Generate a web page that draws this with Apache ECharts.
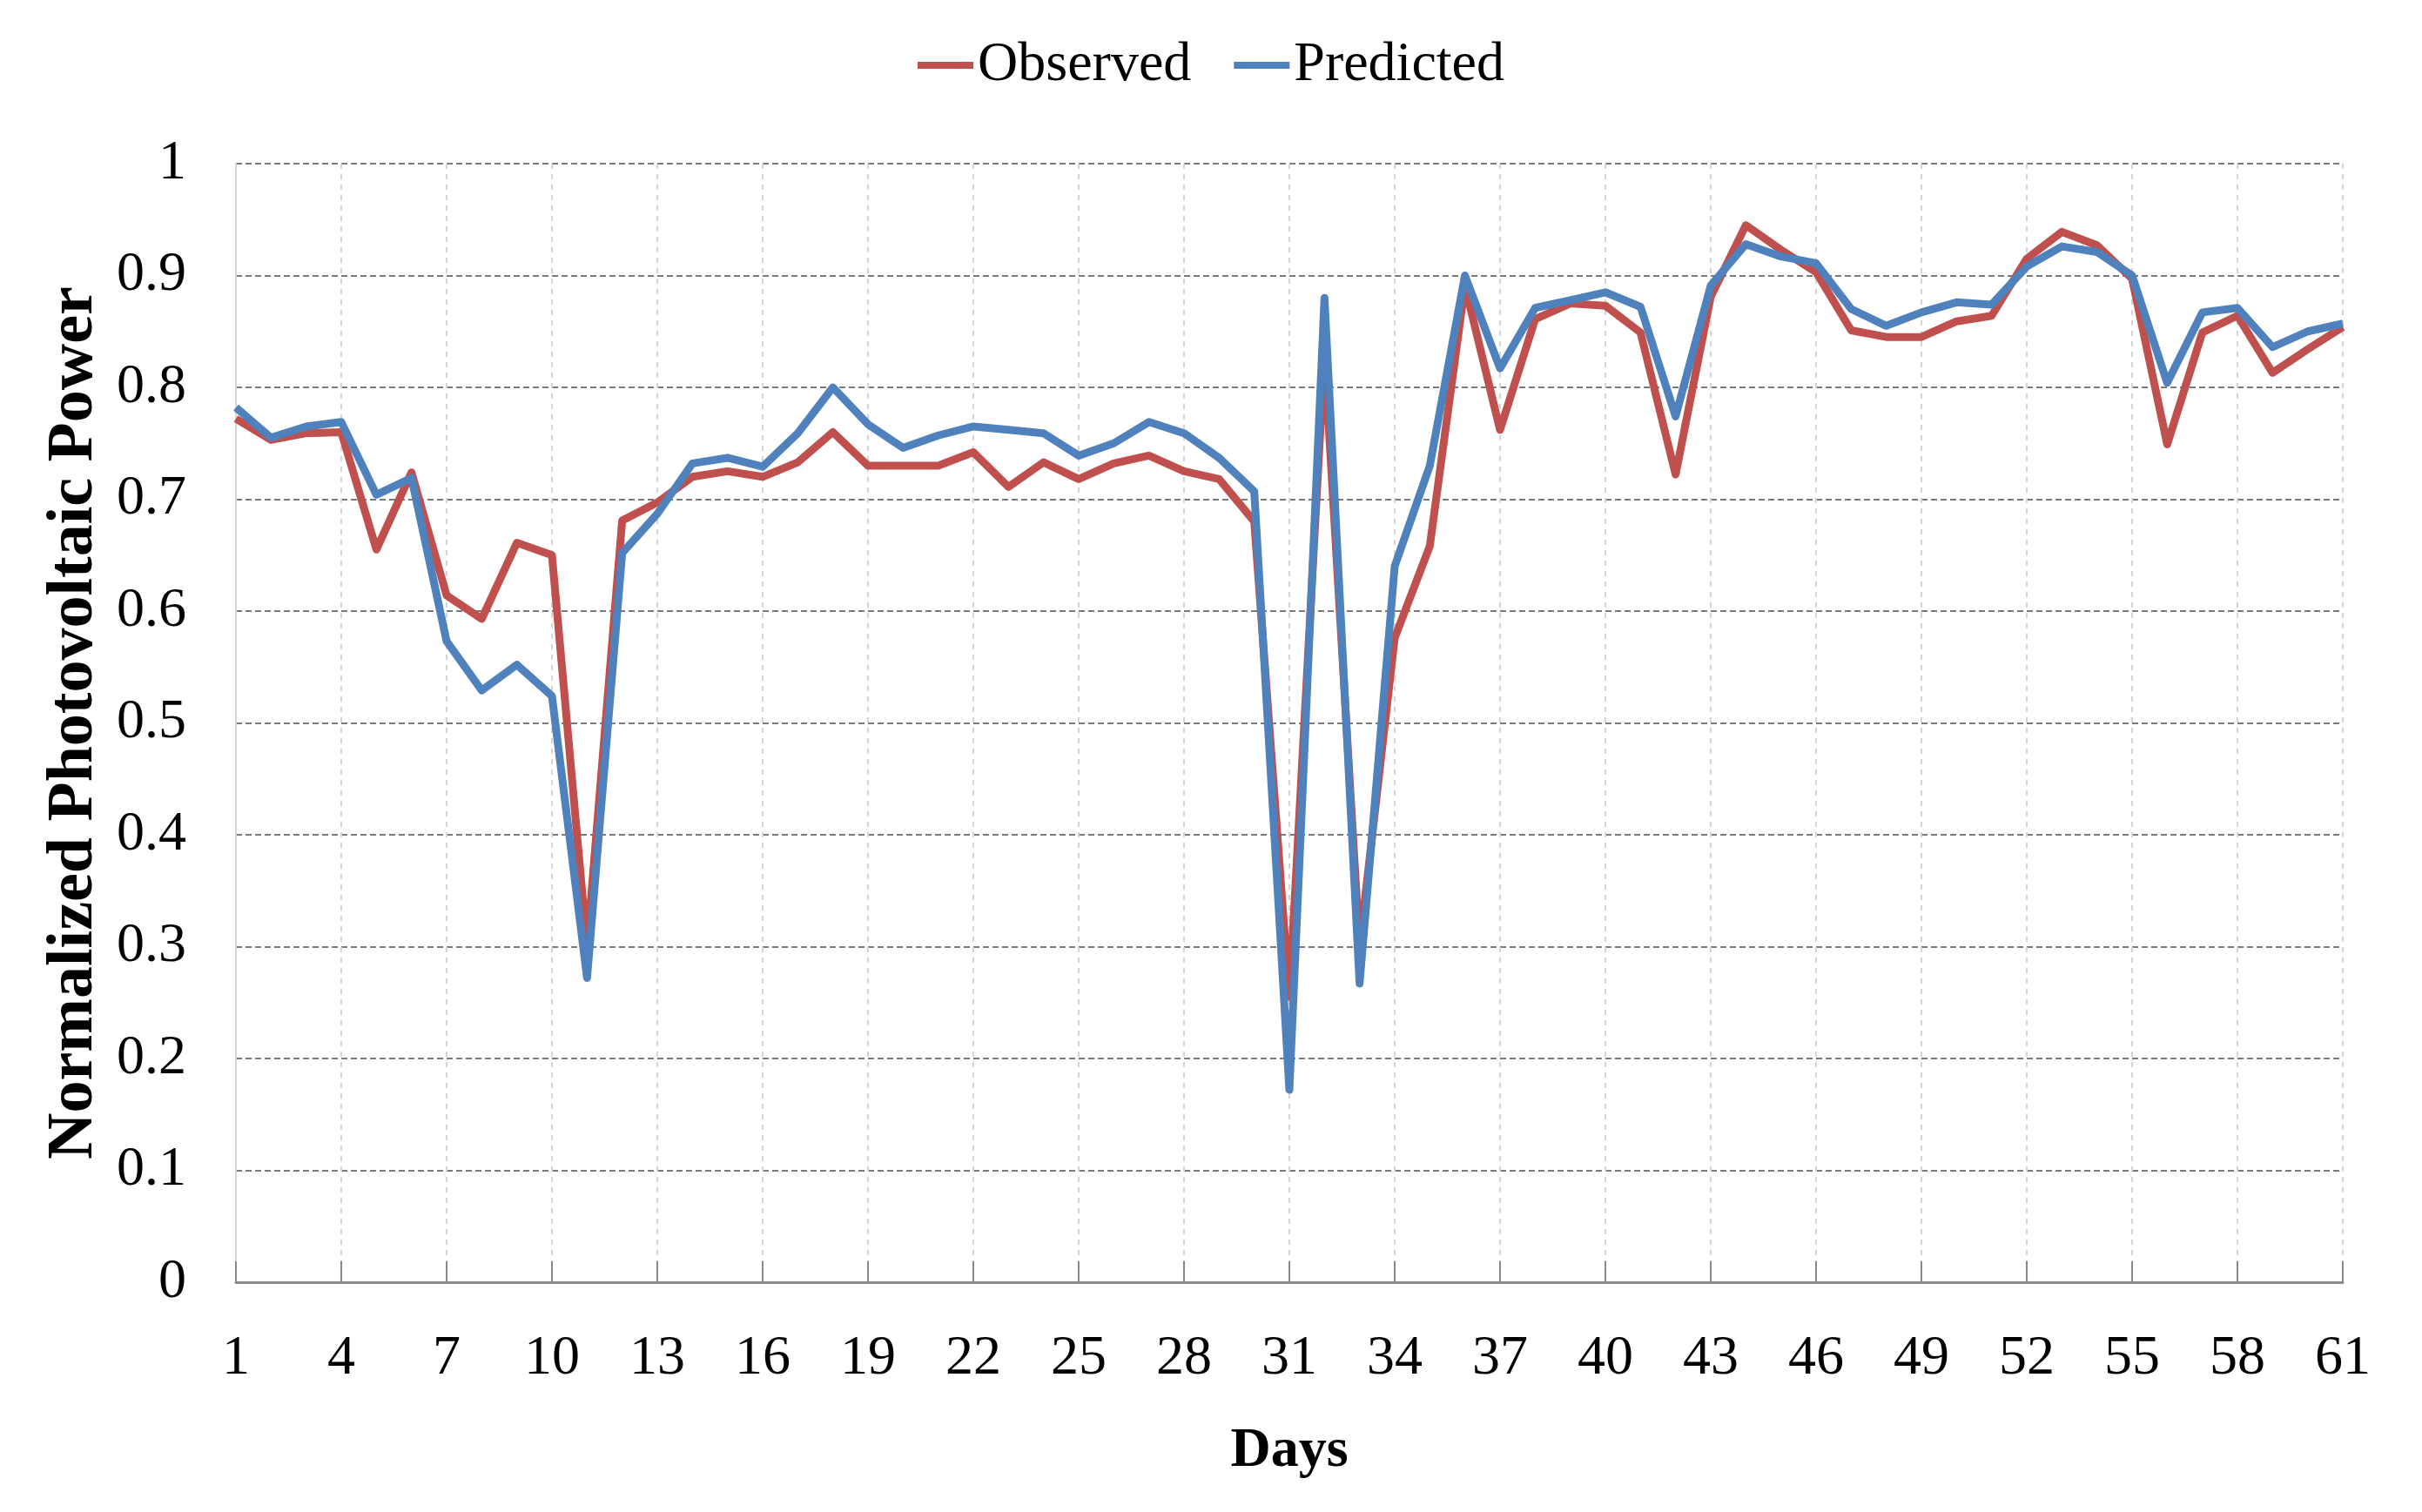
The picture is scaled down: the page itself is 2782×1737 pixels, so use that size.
<!DOCTYPE html>
<html>
<head>
<meta charset="utf-8">
<script src="https://cdn.jsdelivr.net/npm/echarts@6/dist/echarts.min.js"></script>
<style>
html,body{margin:0;padding:0;background:#fff;}
#chart{width:2782px;height:1737px;}
</style>
</head>
<body>
<div id="chart"></div>
<script>
const days = [];
for (let d = 1; d <= 61; d++) days.push(String(d));

const observed = [0.772, 0.753, 0.759, 0.760, 0.655, 0.724, 0.614, 0.593, 0.661, 0.650,
  0.300, 0.681, 0.697, 0.720, 0.725, 0.720, 0.733, 0.760, 0.730, 0.730,
  0.730, 0.742, 0.711, 0.733, 0.718, 0.732, 0.739, 0.725, 0.718, 0.680,
  0.255, 0.830, 0.300, 0.576, 0.658, 0.891, 0.762, 0.861, 0.875, 0.873,
  0.849, 0.722, 0.881, 0.945, 0.923, 0.903, 0.851, 0.845, 0.845, 0.859,
  0.864, 0.915, 0.939, 0.927, 0.897, 0.749, 0.849, 0.864, 0.813, 0.834, 0.854];

const predicted = [0.782, 0.755, 0.765, 0.769, 0.704, 0.719, 0.573, 0.529, 0.552, 0.524,
  0.272, 0.652, 0.687, 0.732, 0.737, 0.729, 0.759, 0.800, 0.767, 0.746,
  0.757, 0.765, 0.762, 0.759, 0.739, 0.750, 0.769, 0.759, 0.737, 0.707,
  0.172, 0.880, 0.267, 0.640, 0.730, 0.900, 0.817, 0.871, 0.878, 0.885,
  0.872, 0.774, 0.891, 0.928, 0.917, 0.911, 0.870, 0.855, 0.867, 0.876,
  0.874, 0.908, 0.926, 0.921, 0.900, 0.804, 0.867, 0.871, 0.836, 0.850, 0.857];

const seriesNames = ['Observed', 'Predicted'];
const xTitle = 'Days';
const yTitle = 'Normalized Photovoltaic Power';

const FONT = "'Liberation Serif', 'Times New Roman', serif";
const chart = echarts.init(document.getElementById('chart'), null, {renderer: 'canvas'});
chart.setOption({
  animation: false,
  backgroundColor: '#ffffff',
  legend: {
    data: seriesNames,
    top: 38,
    left: 'center',
    icon: 'rect',
    itemWidth: 64,
    itemHeight: 8,
    itemGap: 49,
    textStyle: {fontFamily: FONT, fontSize: 64, color: '#000'}
  },
  grid: {left: 271, right: 91, top: 188, bottom: 264, containLabel: false},
  xAxis: {
    type: 'category',
    data: days,
    boundaryGap: false,
    name: xTitle,
    nameLocation: 'middle',
    nameGap: 162,
    nameTextStyle: {fontFamily: FONT, fontSize: 64, fontWeight: 'bold', color: '#000'},
    axisLine: {show: true, lineStyle: {color: '#898989', width: 3}},
    axisTick: {show: true, inside: true, interval: 2, length: 24, alignWithLabel: true,
      lineStyle: {color: '#898989', width: 2}},
    axisLabel: {interval: 2, margin: 56, fontFamily: FONT, fontSize: 64, color: '#000'},
    splitLine: {show: true, interval: 2, lineStyle: {color: '#d4d4d4', width: 2, type: [6, 6]}}
  },
  yAxis: {
    type: 'value',
    min: 0,
    max: 1,
    interval: 0.1,
    name: yTitle,
    nameLocation: 'middle',
    nameGap: 143,
    nameTextStyle: {fontFamily: FONT, fontSize: 74, fontWeight: 'bold', color: '#000'},
    axisLine: {show: true, lineStyle: {color: '#d4d4d4', width: 2}},
    axisTick: {show: false},
    axisLabel: {margin: 57, fontFamily: FONT, fontSize: 64, color: '#000'},
    splitLine: {show: true, lineStyle: {color: '#7a7a7a', width: 2, type: [7, 4]}}
  },
  series: [
    {
      name: seriesNames[0],
      type: 'line',
      data: observed,
      symbol: 'none',
      showSymbol: false,
      itemStyle: {color: '#C0504D'},
      lineStyle: {color: '#C0504D', width: 9, join: 'round'},
      z: 2
    },
    {
      name: seriesNames[1],
      type: 'line',
      data: predicted,
      symbol: 'none',
      showSymbol: false,
      itemStyle: {color: '#4F81BD'},
      lineStyle: {color: '#4F81BD', width: 9, join: 'round'},
      z: 3
    }
  ]
});
</script>
</body>
</html>
